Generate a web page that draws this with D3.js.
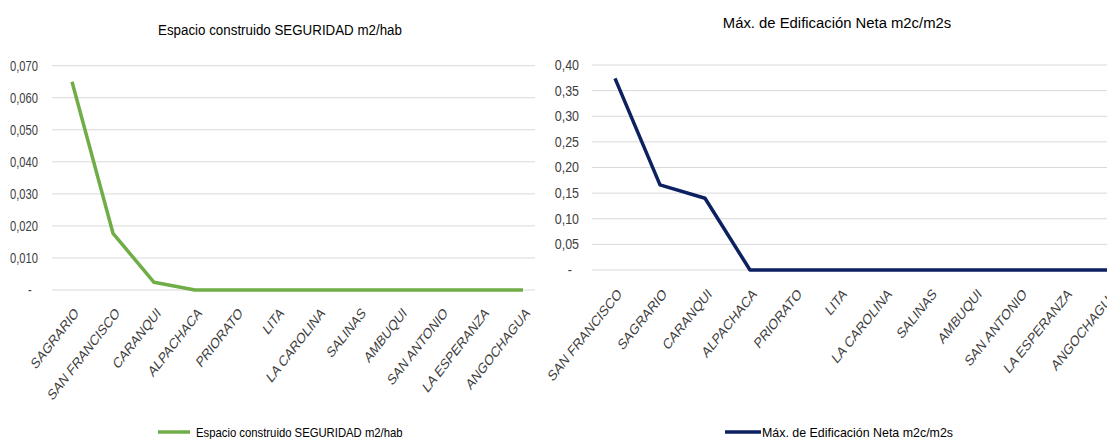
<!DOCTYPE html>
<html>
<head>
<meta charset="utf-8">
<script src="https://cdn.jsdelivr.net/npm/d3@7"></script>
<style>
  html, body { margin: 0; padding: 0; background: #fff; }
  svg { display: block; }
  text { font-family: "Liberation Sans", Arial, sans-serif; }
</style>
</head>
<body>
<svg id="chart" width="1107" height="439"></svg>
<script>
// ---- Data ----
const leftTitle = "Espacio construido SEGURIDAD m2/hab";
const leftCategories = ["SAGRARIO", "SAN FRANCISCO", "CARANQUI", "ALPACHACA", "PRIORATO", "LITA",
  "LA CAROLINA", "SALINAS", "AMBUQUI", "SAN ANTONIO", "LA ESPERANZA", "ANGOCHAGUA"];
const leftValues = [0.065, 0.0177, 0.0024, 0, 0, 0, 0, 0, 0, 0, 0, 0];
const leftTicks = [0, 0.01, 0.02, 0.03, 0.04, 0.05, 0.06, 0.07];
const leftTickLabels = ["-", "0,010", "0,020", "0,030", "0,040", "0,050", "0,060", "0,070"];

const rightTitle = "Máx. de Edificación Neta m2c/m2s";
const rightCategories = ["SAN FRANCISCO", "SAGRARIO", "CARANQUI", "ALPACHACA", "PRIORATO", "LITA",
  "LA CAROLINA", "SALINAS", "AMBUQUI", "SAN ANTONIO", "LA ESPERANZA", "ANGOCHAGUA"];
const rightValues = [0.374, 0.166, 0.140, 0, 0, 0, 0, 0, 0, 0, 0, 0];
const rightTicks = [0, 0.05, 0.10, 0.15, 0.20, 0.25, 0.30, 0.35, 0.40];
const rightTickLabels = ["-", "0,05", "0,10", "0,15", "0,20", "0,25", "0,30", "0,35", "0,40"];

const svg = d3.select("#chart");

function drawChart(cfg) {
  const g = svg.append("g");
  const x = d3.scalePoint().domain(cfg.categories).range(cfg.pointRange).padding(0);
  const y = d3.scaleLinear().domain(cfg.domain).range(cfg.yRange);

  // gridlines
  g.append("g").selectAll("line").data(cfg.ticks).join("line")
    .attr("x1", cfg.gridX[0]).attr("x2", cfg.gridX[1])
    .attr("y1", d => y(d)).attr("y2", d => y(d))
    .attr("stroke", "#d9d9d9").attr("stroke-width", 1);

  // y tick labels
  const yAxis = d3.axisLeft(y).tickValues(cfg.ticks)
    .tickFormat((d, i) => cfg.tickLabels[i]).tickSize(0).tickPadding(0);
  const ya = g.append("g").attr("transform", `translate(${cfg.yLabelX},0)`).call(yAxis);
  ya.select(".domain").remove();
  ya.selectAll("text").attr("font-size", cfg.yFont).attr("fill", "#404040")
    .attr("font-family", '"Liberation Sans", Arial, sans-serif')
    .attr("x", (d, i) => cfg.tickLabels[i] === "-" ? -8 : 0)
    .attr("transform", `scale(${cfg.yScaleX},1)`);

  // x tick labels
  const xAxis = d3.axisBottom(x).tickSize(0).tickPadding(0);
  const xa = g.append("g").attr("transform", `translate(0,${cfg.xLabelY})`).call(xAxis);
  xa.select(".domain").remove();
  xa.selectAll("text")
    .attr("font-size", 15).attr("fill", "#404040")
    .attr("font-family", '"Liberation Sans", Arial, sans-serif')
    .attr("text-anchor", "end")
    .attr("y", 0).attr("dy", 0)
    .attr("transform", `translate(7,0) scale(${cfg.xScaleX},1) rotate(-45)`);

  // line
  const line = d3.line().x((d, i) => x(cfg.categories[i])).y(d => y(d));
  g.append("path").datum(cfg.values)
    .attr("d", line).attr("fill", "none")
    .attr("stroke", cfg.color).attr("stroke-width", 3.5)
    .attr("stroke-linejoin", "round");

  // title
  g.append("text")
    .attr("transform", `translate(${cfg.titleX},${cfg.titleY}) scale(${cfg.titleScaleX},1)`)
    .attr("text-anchor", "middle").attr("font-size", 15).attr("fill", "#000")
    .text(cfg.title);

  // legend
  g.append("line").attr("x1", cfg.legendX).attr("x2", cfg.legendX + cfg.legendLen)
    .attr("y1", 432).attr("y2", 432)
    .attr("stroke", cfg.color).attr("stroke-width", 3.5);
  g.append("text")
    .attr("transform", `translate(${cfg.legendTextX},432) scale(${cfg.legendScaleX},1)`)
    .attr("dy", "0.35em")
    .attr("font-size", 13).attr("fill", "#000")
    .text(cfg.title);
}

drawChart({
  title: leftTitle, categories: leftCategories, values: leftValues,
  ticks: leftTicks, tickLabels: leftTickLabels, domain: [0, 0.07],
  pointRange: [72, 523], yRange: [290, 65.7], gridX: [52, 535],
  yLabelX: 38, yFont: 14, yScaleX: 0.8,
  xLabelY: 314, xScaleX: 0.78, color: "#70ad47",
  titleX: 280, titleY: 35, titleScaleX: 0.89,
  legendX: 158, legendLen: 32, legendTextX: 196, legendScaleX: 0.87
});

drawChart({
  title: rightTitle, categories: rightCategories, values: rightValues,
  ticks: rightTicks, tickLabels: rightTickLabels, domain: [0, 0.4],
  pointRange: [615, 1110], yRange: [270, 65], gridX: [592, 1140],
  yLabelX: 579, yFont: 14, yScaleX: 0.89,
  xLabelY: 295, xScaleX: 0.8, color: "#0d2161",
  titleX: 837, titleY: 28, titleScaleX: 0.99,
  legendX: 725, legendLen: 36, legendTextX: 762, legendScaleX: 0.955
});
</script>
</body>
</html>
